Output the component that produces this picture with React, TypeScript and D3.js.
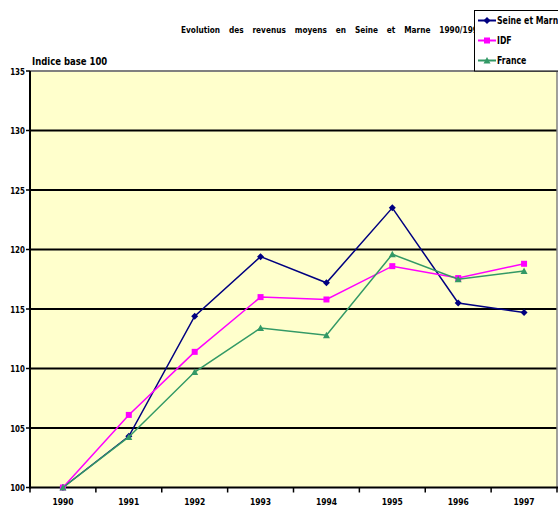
import React from "react";
import * as d3 from "d3";

const years = ["1990", "1991", "1992", "1993", "1994", "1995", "1996", "1997"];
const seineEtMarne = [100, 104.3, 114.4, 119.4, 117.2, 123.5, 115.5, 114.7];
const idf = [100, 106.1, 111.4, 116.0, 115.8, 118.6, 117.6, 118.8];
const france = [100, 104.25, 109.7, 113.4, 112.8, 119.6, 117.5, 118.2];
const yTicks = [100, 105, 110, 115, 120, 125, 130, 135];

const title = "Evolution des revenus moyens en Seine et Marne 1990/1997";
const yAxisTitle = "Indice base 100";

const W = 558;
const H = 506;
const FONT = "'DejaVu Sans', sans-serif";

type TProps = {
  x: number;
  y: number;
  sx: number;
  size: number;
  anchor?: string;
  children: React.ReactNode;
  wordSpacing?: number;
};
function T({ x, y, sx, size, anchor = "start", children, wordSpacing }: TProps) {
  return (
    <text
      transform={`translate(${x},${y}) scale(${sx},1)`}
      textAnchor={anchor}
      fontSize={size}
      fontWeight="bold"
      wordSpacing={wordSpacing}
    >
      {children}
    </text>
  );
}

export default function App() {
  const x = d3.scaleBand<string>().domain(years).range([30, 557]);
  const y = d3.scaleLinear().domain([100, 135]).range([487.5, 71]);
  const cx = (i: number) => (x(years[i]) as number) + x.bandwidth() / 2;
  const line = d3
    .line<number>()
    .x((_, i) => cx(i))
    .y((d) => y(d));

  const series = [
    { name: "Seine et Marne", values: seineEtMarne, color: "#000080", marker: "diamond" },
    { name: "IDF", values: idf, color: "#FF00FF", marker: "square" },
    { name: "France", values: france, color: "#339966", marker: "triangle" },
  ];

  const marker = (type: string, px: number, py: number, color: string, key: string) => {
    if (type === "diamond") {
      const s = 3.5;
      return (
        <path key={key} d={`M${px},${py - s}L${px + s},${py}L${px},${py + s}L${px - s},${py}Z`} fill={color} />
      );
    }
    if (type === "square") {
      return <rect key={key} x={px - 3} y={py - 3} width={6} height={6} fill={color} />;
    }
    const s = 3.5;
    return (
      <path key={key} d={`M${px},${py - s}L${px + s},${py + s - 0.5}L${px - s},${py + s - 0.5}Z`} fill={color} />
    );
  };

  return (
    <svg
      width={W}
      height={H}
      style={{ position: "absolute", left: 0, top: 0, background: "#ffffff" }}
      fontFamily={FONT}
    >
      <rect x={0} y={0} width={W} height={H} fill="#ffffff" />
      {/* plot background */}
      <rect x={30} y={y(135)} width={557 - 30} height={y(100) - y(135)} fill="#FFFFCC" />
      {/* gridlines */}
      {yTicks
        .filter((t) => t > 100 && t < 135)
        .map((t) => (
          <line key={t} x1={30} x2={557} y1={y(t)} y2={y(t)} stroke="#000" strokeWidth={2.2} />
        ))}
      {/* top and right border */}
      <line x1={30} x2={558} y1={y(135)} y2={y(135)} stroke="#808080" strokeWidth={2} />
      <line x1={557} x2={557} y1={y(135)} y2={y(100)} stroke="#808080" strokeWidth={1.5} />
      {/* axes */}
      <line x1={30} x2={30} y1={y(135)} y2={y(100) + 1} stroke="#000" strokeWidth={2} />
      <line x1={29} x2={558} y1={y(100)} y2={y(100)} stroke="#000" strokeWidth={2.2} />
      {yTicks.map((t) => (
        <g key={t}>
          <line x1={26} x2={30} y1={y(t)} y2={y(t)} stroke="#000" strokeWidth={1.5} />
          <T x={25} y={y(t) + 3.5} sx={0.75} size={9.5} anchor="end">
            {t}
          </T>
        </g>
      ))}
      {years.map((yr) => (
        <line
          key={yr + "t"}
          x1={x(yr) as number}
          x2={x(yr) as number}
          y1={y(100)}
          y2={y(100) + 5}
          stroke="#000"
          strokeWidth={1.5}
        />
      ))}
      <line x1={557} x2={557} y1={y(100)} y2={y(100) + 5} stroke="#000" strokeWidth={1.5} />
      {years.map((yr, i) => (
        <T key={yr} x={cx(i)} y={505} sx={0.8} size={9.5} anchor="middle">
          {yr}
        </T>
      ))}
      {/* series */}
      {series.map((s) => (
        <g key={s.name}>
          <path d={line(s.values) as string} fill="none" stroke={s.color} strokeWidth={1.5} />
          {s.values.map((v, i) => marker(s.marker, cx(i), y(v), s.color, s.name + i))}
        </g>
      ))}
      {/* titles */}
      <T x={181} y={33} sx={0.84} size={8.8} wordSpacing={7.5}>
        {title}
      </T>
      <T x={32} y={65} sx={0.85} size={10}>
        {yAxisTitle}
      </T>
      {/* legend */}
      <rect x={474.5} y={10.5} width={100} height={60.5} fill="#ffffff" stroke="#000" strokeWidth={1} />
      {series.map((s, i) => {
        const ly = 20.5 + i * 20;
        return (
          <g key={s.name + "leg"}>
            <line x1={478} x2={496} y1={ly} y2={ly} stroke={s.color} strokeWidth={2} />
            {marker(s.marker, 487, ly, s.color, s.name + "lm")}
            <T x={497} y={ly + 3.5} sx={0.78} size={10}>
              {s.name}
            </T>
          </g>
        );
      })}
    </svg>
  );
}
